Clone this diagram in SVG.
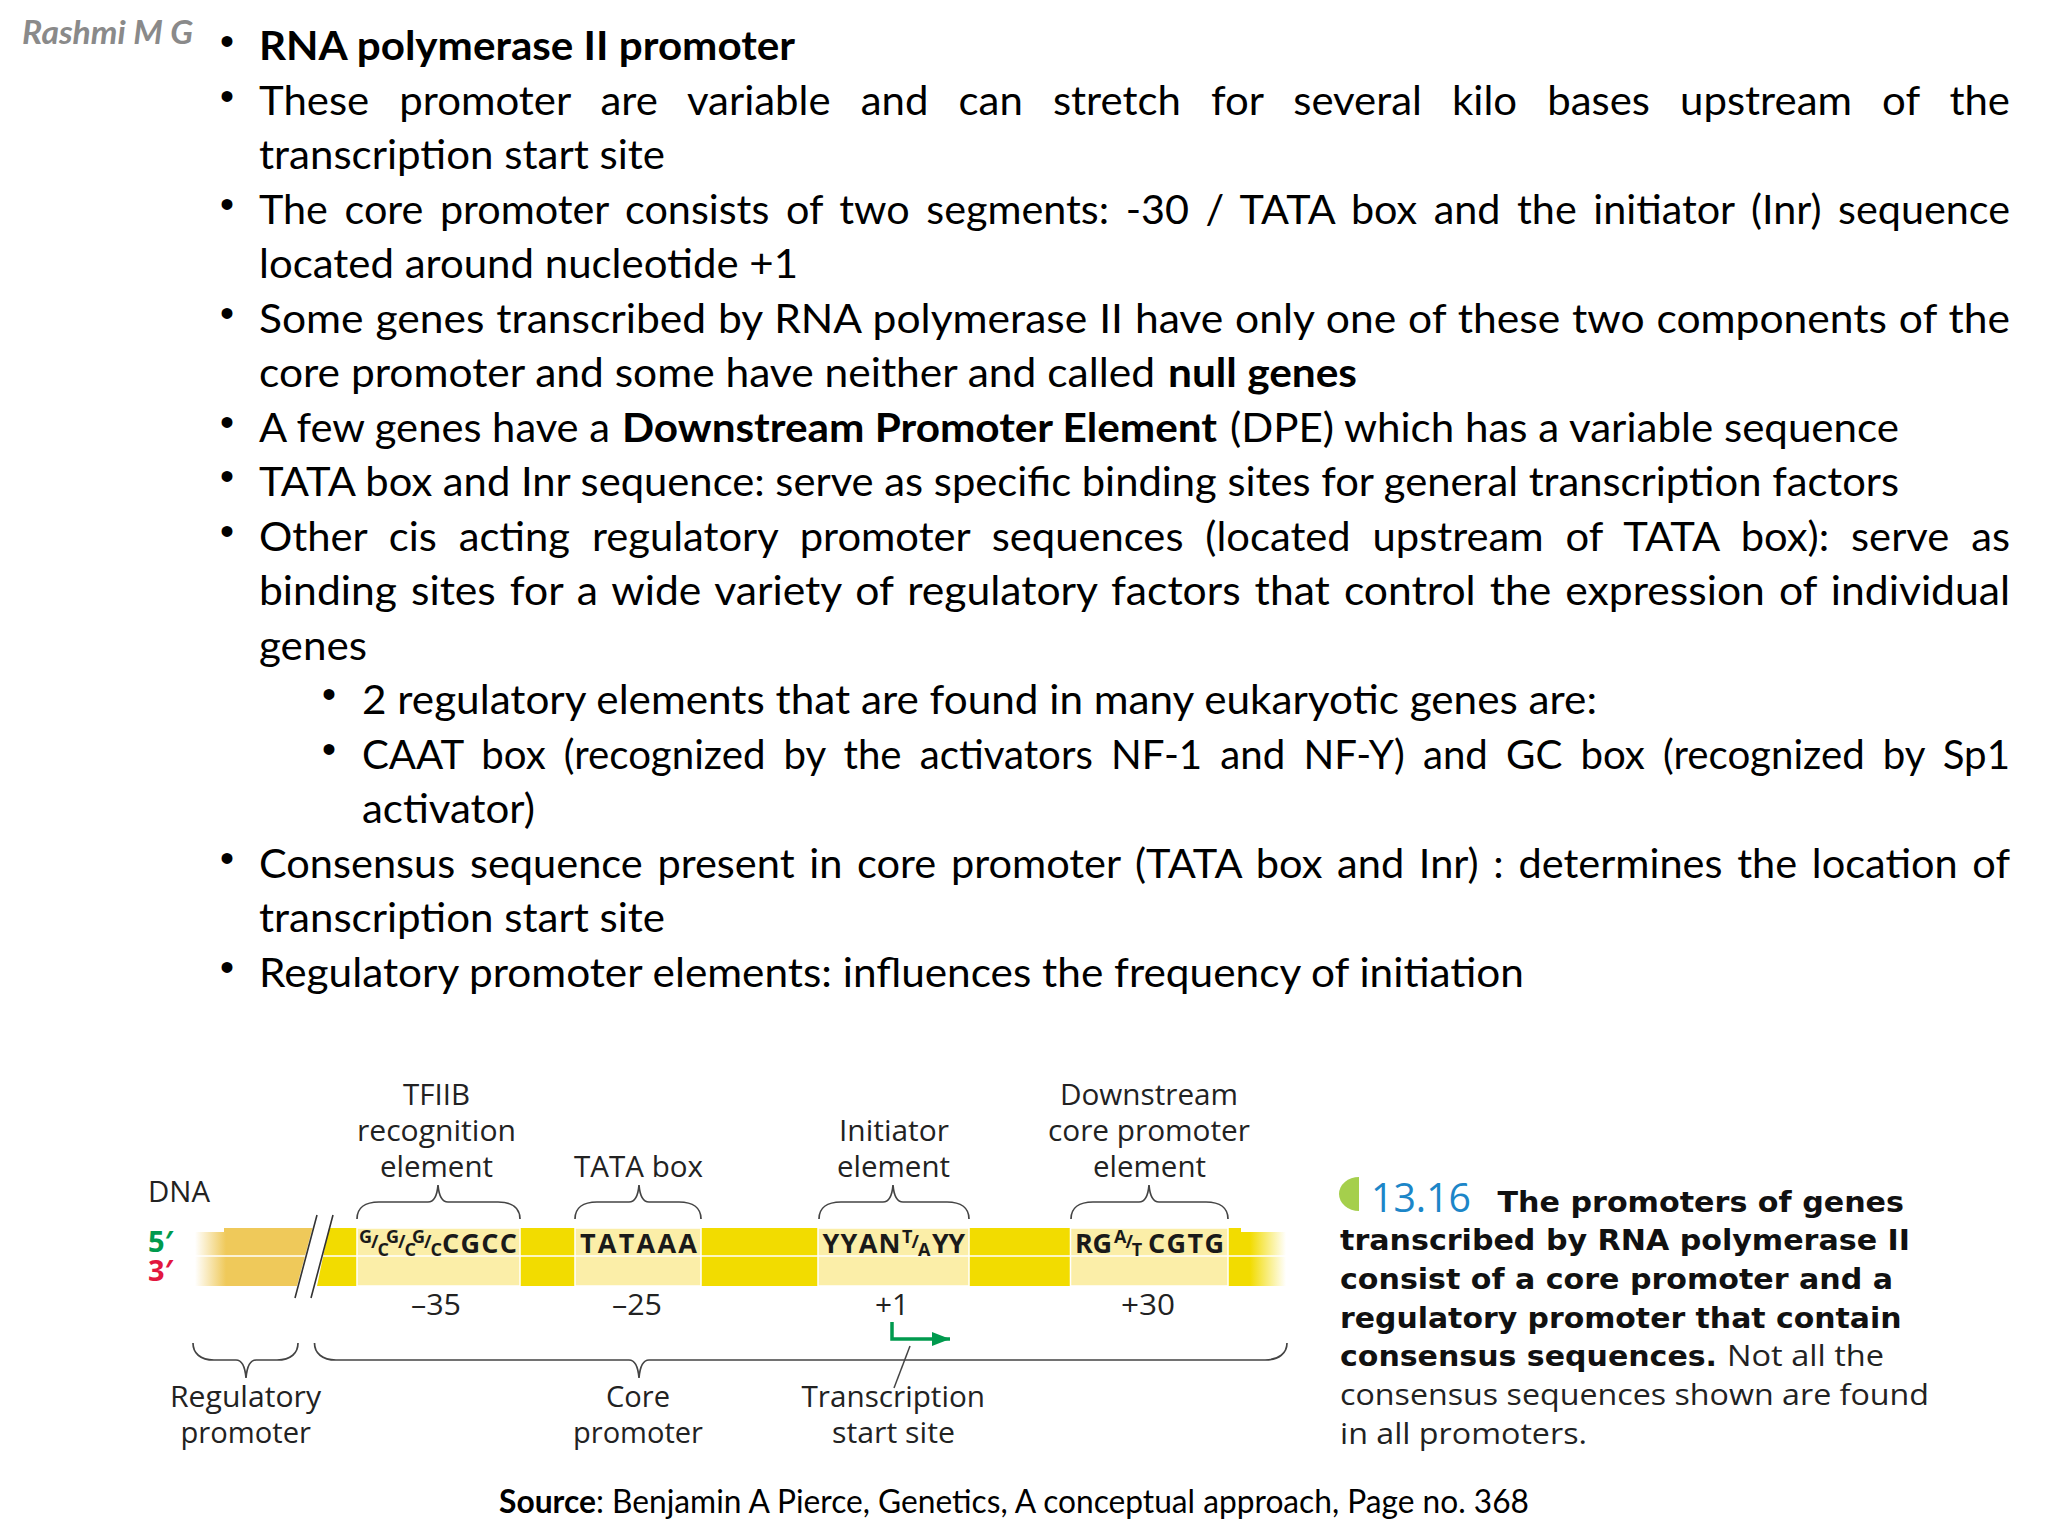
<svg xmlns="http://www.w3.org/2000/svg" width="2048" height="1536" viewBox="0 0 2048 1536">
<style>
text{white-space:pre}
.b{font:41px Lato,"Liberation Sans",sans-serif;fill:#000}
.bb{font:bold 41px Lato,"Liberation Sans",sans-serif;fill:#000}
.bu{font:40px "Liberation Sans",Arial,sans-serif;fill:#000;text-anchor:middle}
.l{font:29px "Open Sans","Liberation Sans",sans-serif;fill:#222}
.seq{font:bold 27px "Open Sans","Liberation Sans",sans-serif;fill:#1a1a1a}
.sm{font:bold 18px "Open Sans","Liberation Sans",sans-serif;fill:#1a1a1a}
.cb{font:bold 28px "DejaVu Sans",sans-serif;fill:#111}
.cr{font:29px "Open Sans","Liberation Sans",sans-serif;fill:#222}
.src{font:32px Lato,"Liberation Sans",sans-serif;fill:#000}
.br{fill:none;stroke:#444;stroke-width:1.7}
.box{fill:#FBEEA8;stroke:#fff;stroke-width:1.5}
</style>
<defs>
<linearGradient id="fl" gradientUnits="userSpaceOnUse" x1="195" y1="0" x2="226" y2="0"><stop offset="0" stop-color="#fff"/><stop offset="1" stop-color="#EFC95A"/></linearGradient>
<linearGradient id="fr" gradientUnits="userSpaceOnUse" x1="1250" y1="0" x2="1286" y2="0"><stop offset="0" stop-color="#F2DC00"/><stop offset="1" stop-color="#fff"/></linearGradient>
<marker id="ah" markerUnits="userSpaceOnUse" markerWidth="20" markerHeight="16" refX="18" refY="7" orient="auto"><path d="M0 0L18 7L0 14z" fill="#009A4E"/></marker>
</defs>
<g id="author"><text x="22" y="44" textLength="171" lengthAdjust="spacingAndGlyphs" style="font:italic bold 32px Lato,sans-serif;fill:#8a8a8a">Rashmi M G</text></g>
<g id="bullets">
<text class="bu" x="227" y="55">•</text>
<text class="bu" x="227" y="109.500">•</text>
<text class="bu" x="227" y="218">•</text>
<text class="bu" x="227" y="327">•</text>
<text class="bu" x="227" y="436">•</text>
<text class="bu" x="227" y="490">•</text>
<text class="bu" x="227" y="545">•</text>
<text class="bu" x="329" y="708">•</text>
<text class="bu" x="329" y="763">•</text>
<text class="bu" x="227" y="872">•</text>
<text class="bu" x="227" y="981">•</text>
</g>
<g id="body-text">
<text class="bb" x="259" y="60" textLength="536" lengthAdjust="spacingAndGlyphs">RNA polymerase II promoter</text>
<text class="b" x="259" y="114.500" textLength="1751" lengthAdjust="spacingAndGlyphs" word-spacing="19">These promoter are variable and can stretch for several kilo bases upstream of the</text>
<text class="b" x="259" y="169" textLength="406" lengthAdjust="spacingAndGlyphs">transcription start site</text>
<text class="b" x="259" y="223.500" textLength="1751" lengthAdjust="spacingAndGlyphs" word-spacing="6">The core promoter consists of two segments: -30 / TATA box and the initiator (Inr) sequence</text>
<text class="b" x="259" y="278" textLength="539" lengthAdjust="spacingAndGlyphs">located around nucleotide +1</text>
<text class="b" x="259" y="332.500" textLength="1751" lengthAdjust="spacingAndGlyphs" word-spacing="1">Some genes transcribed by RNA polymerase II have only one of these two components of the</text>
<text class="b" x="259" y="387" textLength="896" lengthAdjust="spacingAndGlyphs">core promoter and some have neither and called</text>
<text class="bb" x="1168" y="387" textLength="189" lengthAdjust="spacingAndGlyphs">null genes</text>
<text class="b" x="259" y="441.500" textLength="351" lengthAdjust="spacingAndGlyphs">A few genes have a</text>
<text class="bb" x="622" y="441.500" textLength="595" lengthAdjust="spacingAndGlyphs">Downstream Promoter Element</text>
<text class="b" x="1230" y="441.500" textLength="669" lengthAdjust="spacingAndGlyphs">(DPE) which has a variable sequence</text>
<text class="b" x="259" y="496" textLength="1640" lengthAdjust="spacingAndGlyphs">TATA box and Inr sequence: serve as specific binding sites for general transcription factors</text>
<text class="b" x="259" y="550.500" textLength="1751" lengthAdjust="spacingAndGlyphs" word-spacing="11">Other cis acting regulatory promoter sequences (located upstream of TATA box): serve as</text>
<text class="b" x="259" y="605" textLength="1751" lengthAdjust="spacingAndGlyphs" word-spacing="3">binding sites for a wide variety of regulatory factors that control the expression of individual</text>
<text class="b" x="259" y="659.500" textLength="108" lengthAdjust="spacingAndGlyphs">genes</text>
<text class="b" x="362" y="714" textLength="1235" lengthAdjust="spacingAndGlyphs">2 regulatory elements that are found in many eukaryotic genes are:</text>
<text class="b" x="362" y="768.500" textLength="1648" lengthAdjust="spacingAndGlyphs" word-spacing="8">CAAT box (recognized by the activators NF-1 and NF-Y) and GC box (recognized by Sp1</text>
<text class="b" x="362" y="823" textLength="173" lengthAdjust="spacingAndGlyphs">activator)</text>
<text class="b" x="259" y="877.500" textLength="1751" lengthAdjust="spacingAndGlyphs" word-spacing="4">Consensus sequence present in core promoter (TATA box and Inr) : determines the location of</text>
<text class="b" x="259" y="932" textLength="406" lengthAdjust="spacingAndGlyphs">transcription start site</text>
<text class="b" x="259" y="986.500" textLength="1265" lengthAdjust="spacingAndGlyphs">Regulatory promoter elements: influences the frequency of initiation</text>
</g>
<g id="dna-band">
<path fill="#EFC95A" d="M224 1228H312.500L297 1286H224z"/>
<rect x="195" y="1232" width="31" height="54" fill="url(#fl)"/>
<path fill="#F2DC00" d="M329 1228H1241V1232H1250V1286H317z"/>
<path fill="url(#fr)" d="M1250 1232H1286V1286H1250z"/>
<rect class="box" x="357" y="1228" width="163" height="58"/>
<rect class="box" x="575" y="1228" width="126" height="58"/>
<rect class="box" x="818" y="1228" width="151" height="58"/>
<rect class="box" x="1070.500" y="1228" width="157.500" height="58"/>
<path d="M195 1256H1286" stroke="#fff" stroke-width="1.5" fill="none"/>
<path d="M317 1215L295 1298M333 1215L311 1298" stroke="#333" stroke-width="1.6" fill="none"/>
</g>
<g id="sequences">
<text class="sm" x="359" y="1243">G<tspan dy="5" dx="-1">/</tspan><tspan dy="8" dx="-1">C</tspan></text>
<text class="sm" x="386" y="1243">G<tspan dy="5" dx="-1">/</tspan><tspan dy="8" dx="-1">C</tspan></text>
<text class="sm" x="412" y="1243">G<tspan dy="5" dx="-1">/</tspan><tspan dy="8" dx="-1">C</tspan></text>
<text class="seq" x="442" y="1253" textLength="75">CGCC</text>
<text class="seq" x="580" y="1253" textLength="117">TATAAA</text>
<text class="seq" x="822.500" y="1253" textLength="78">YYAN</text>
<text class="sm" x="902" y="1243">T<tspan dy="5" dx="-1">/</tspan><tspan dy="8" dx="-1">A</tspan></text>
<text class="seq" x="932" y="1253" textLength="33">YY</text>
<text class="seq" x="1075" y="1253" textLength="37">RG</text>
<text class="sm" x="1114" y="1243">A<tspan dy="5" dx="-1">/</tspan><tspan dy="8" dx="-1">T</tspan></text>
<text class="seq" x="1148" y="1253" textLength="76">CGTG</text>
</g>
<g id="connectors">
<path class="br" d="M357 1219C357 1208 365 1202 379 1202H428C433 1202 437 1197 438 1185C439 1197 443 1202 448 1202H498C512 1202 520 1208 520 1219"/>
<path class="br" d="M575 1219C575 1208 583 1202 597 1202H629C634 1202 638 1197 639 1185C640 1197 644 1202 649 1202H679C693 1202 701 1208 701 1219"/>
<path class="br" d="M819 1219C819 1208 827 1202 841 1202H883C888 1202 892 1197 893 1185C894 1197 898 1202 903 1202H947C961 1202 969 1208 969 1219"/>
<path class="br" d="M1071 1219C1071 1208 1079 1202 1093 1202H1139C1144 1202 1148 1197 1149 1185C1150 1197 1154 1202 1159 1202H1206C1220 1202 1228 1208 1228 1219"/>
<path class="br" d="M193 1343C193 1353 200 1360 214 1360H236C241 1360 245 1366 246 1378C247 1366 251 1360 256 1360H277C291 1360 298 1353 298 1343"/>
<path class="br" d="M314.500 1343C314.500 1353 322 1360 336 1360H629C634 1360 638 1366 639 1378C640 1366 644 1360 649 1360H1265C1279 1360 1287 1353 1287 1343"/>
<path d="M892 1322V1339H950" fill="none" stroke="#009A4E" stroke-width="3.500" marker-end="url(#ah)"/>
<path d="M910 1346L894 1388" fill="none" stroke="#444" stroke-width="1.500"/>
</g>
<g id="labels">
<text class="l" x="148" y="1202" textLength="62" lengthAdjust="spacingAndGlyphs">DNA</text>
<text x="148" y="1252" style="font:bold 29px 'Open Sans',sans-serif"><tspan fill="#009A4E">5′</tspan><tspan x="148" y="1281" fill="#E2173F">3′</tspan></text>
<text class="l" x="403" y="1105" textLength="67" lengthAdjust="spacingAndGlyphs">TFIIB</text>
<text class="l" x="357" y="1141" textLength="159" lengthAdjust="spacingAndGlyphs">recognition</text>
<text class="l" x="380" y="1177" textLength="113" lengthAdjust="spacingAndGlyphs">element</text>
<text class="l" x="574" y="1177" textLength="129" lengthAdjust="spacingAndGlyphs">TATA box</text>
<text class="l" x="839" y="1141" textLength="110" lengthAdjust="spacingAndGlyphs">Initiator</text>
<text class="l" x="837" y="1177" textLength="113" lengthAdjust="spacingAndGlyphs">element</text>
<text class="l" x="1060" y="1105" textLength="178" lengthAdjust="spacingAndGlyphs">Downstream</text>
<text class="l" x="1048" y="1141" textLength="202" lengthAdjust="spacingAndGlyphs">core promoter</text>
<text class="l" x="1093" y="1177" textLength="113" lengthAdjust="spacingAndGlyphs">element</text>
<text class="l" x="411" y="1315" textLength="50" lengthAdjust="spacingAndGlyphs">–35</text>
<text class="l" x="612" y="1315" textLength="50" lengthAdjust="spacingAndGlyphs">–25</text>
<text class="l" x="875" y="1315" textLength="34" lengthAdjust="spacingAndGlyphs">+1</text>
<text class="l" x="1121" y="1315" textLength="54" lengthAdjust="spacingAndGlyphs">+30</text>
<text class="l" x="170" y="1407" textLength="151" lengthAdjust="spacingAndGlyphs">Regulatory</text>
<text class="l" x="180.500" y="1443" textLength="130.500" lengthAdjust="spacingAndGlyphs">promoter</text>
<text class="l" x="606" y="1407" textLength="64" lengthAdjust="spacingAndGlyphs">Core</text>
<text class="l" x="573" y="1443" textLength="130" lengthAdjust="spacingAndGlyphs">promoter</text>
<text class="l" x="801.500" y="1407" textLength="183.500" lengthAdjust="spacingAndGlyphs">Transcription</text>
<text class="l" x="832" y="1443" textLength="123" lengthAdjust="spacingAndGlyphs">start site</text>
</g>
<g id="caption">
<path d="M1359 1177A20 17 0 0 0 1359 1211z" fill="#A5CF4C"/>
<text x="1371" y="1212" textLength="100" lengthAdjust="spacingAndGlyphs" style="font:400 41px 'Open Sans',sans-serif;fill:#1C86C8">13.16</text>
<text class="cb" x="1497.500" y="1212" textLength="406.500" lengthAdjust="spacingAndGlyphs">The promoters of genes</text>
<text class="cb" x="1340" y="1250" textLength="570" lengthAdjust="spacingAndGlyphs">transcribed by RNA polymerase II</text>
<text class="cb" x="1340" y="1289" textLength="553" lengthAdjust="spacingAndGlyphs">consist of a core promoter and a</text>
<text class="cb" x="1340" y="1328" textLength="561.500" lengthAdjust="spacingAndGlyphs">regulatory promoter that contain</text>
<text class="cb" x="1340" y="1366" textLength="377" lengthAdjust="spacingAndGlyphs">consensus sequences.</text>
<text class="cr" x="1727" y="1366" textLength="157" lengthAdjust="spacingAndGlyphs">Not all the</text>
<text class="cr" x="1340" y="1405" textLength="589" lengthAdjust="spacingAndGlyphs">consensus sequences shown are found</text>
<text class="cr" x="1340" y="1444" textLength="247" lengthAdjust="spacingAndGlyphs">in all promoters.</text>
</g>
<g id="source">
<text x="499" y="1513" textLength="97" lengthAdjust="spacingAndGlyphs" style="font:bold 32px Lato,sans-serif">Source</text>
<text class="src" x="596" y="1513" textLength="933" lengthAdjust="spacingAndGlyphs">: Benjamin A Pierce, Genetics, A conceptual approach, Page no. 368</text>
</g>
</svg>
